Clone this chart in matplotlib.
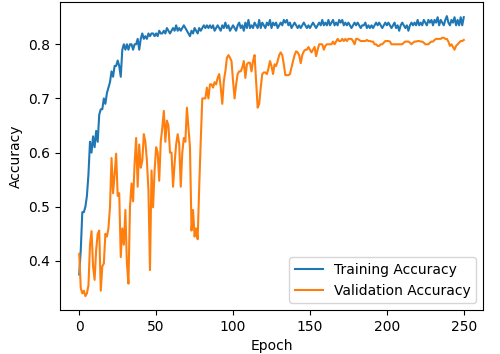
import numpy as np
import matplotlib
matplotlib.use("Agg")
import matplotlib.pyplot as plt

# training accuracy per epoch
train_acc = [
    0.375, 0.42, 0.49, 0.49, 0.50, 0.52, 0.56, 0.62, 0.60, 0.63,
    0.61, 0.64, 0.62, 0.67, 0.68, 0.68, 0.70, 0.69, 0.71, 0.72,
    0.73, 0.75, 0.74, 0.76, 0.76, 0.77, 0.76, 0.74, 0.79, 0.80,
    0.79, 0.80, 0.79, 0.80, 0.80, 0.79, 0.80, 0.80, 0.81, 0.79,
    0.81, 0.82, 0.81, 0.815, 0.81, 0.82, 0.815, 0.82, 0.82, 0.815,
    0.82, 0.815, 0.825, 0.82, 0.82, 0.825, 0.82, 0.83, 0.825, 0.82,
    0.825, 0.83, 0.825, 0.835, 0.825, 0.83, 0.825, 0.83, 0.835, 0.83,
    0.825, 0.82, 0.815, 0.825, 0.82, 0.83, 0.825, 0.82, 0.83, 0.825,
    0.83, 0.835, 0.83, 0.835, 0.83, 0.835, 0.83, 0.835, 0.825, 0.83,
    0.835, 0.83, 0.825, 0.835, 0.83, 0.84, 0.83, 0.835, 0.825, 0.83,
    0.835, 0.83, 0.825, 0.835, 0.84, 0.83, 0.835, 0.825, 0.84, 0.83,
    0.845, 0.83, 0.835, 0.83, 0.84, 0.835, 0.83, 0.845, 0.83, 0.84,
    0.835, 0.83, 0.84, 0.835, 0.845, 0.83, 0.84, 0.835, 0.84, 0.83,
    0.835, 0.84, 0.835, 0.845, 0.84, 0.845, 0.835, 0.84, 0.83, 0.835,
    0.84, 0.835, 0.83, 0.835, 0.83, 0.835, 0.84, 0.835, 0.83, 0.835,
    0.83, 0.835, 0.84, 0.835, 0.83, 0.835, 0.84, 0.835, 0.845, 0.835,
    0.84, 0.835, 0.845, 0.835, 0.84, 0.845, 0.835, 0.84, 0.835, 0.845,
    0.84, 0.845, 0.835, 0.84, 0.835, 0.84, 0.835, 0.83, 0.835, 0.84,
    0.835, 0.84, 0.835, 0.83, 0.835, 0.835, 0.84, 0.83, 0.835, 0.83,
    0.835, 0.83, 0.835, 0.84, 0.835, 0.84, 0.835, 0.83, 0.835, 0.84,
    0.835, 0.84, 0.835, 0.83, 0.835, 0.84, 0.83, 0.835, 0.825, 0.835,
    0.84, 0.835, 0.83, 0.835, 0.825, 0.835, 0.84, 0.835, 0.84, 0.835,
    0.845, 0.835, 0.84, 0.835, 0.845, 0.84, 0.835, 0.845, 0.84, 0.845,
    0.835, 0.845, 0.84, 0.85, 0.835, 0.845, 0.84, 0.835, 0.845, 0.852,
    0.84, 0.835, 0.845, 0.84, 0.85, 0.835, 0.845, 0.835, 0.85, 0.835, 0.85,
]

# validation accuracy per epoch
val_acc = [
    0.413, 0.35, 0.34, 0.345, 0.335, 0.34, 0.355, 0.43, 0.455, 0.39,
    0.365, 0.42, 0.45, 0.456, 0.345, 0.39, 0.395, 0.45, 0.445, 0.46,
    0.50, 0.59, 0.525, 0.56, 0.598, 0.52, 0.525, 0.407, 0.46, 0.43,
    0.494, 0.395, 0.358, 0.50, 0.543, 0.51, 0.58, 0.627, 0.537, 0.615,
    0.572, 0.585, 0.634, 0.62, 0.585, 0.53, 0.383, 0.567, 0.499, 0.567,
    0.61, 0.60, 0.548, 0.62, 0.646, 0.677, 0.62, 0.659, 0.65, 0.60,
    0.60, 0.537, 0.58, 0.615, 0.634, 0.616, 0.537, 0.60, 0.627, 0.62,
    0.683, 0.646, 0.61, 0.456, 0.494, 0.445, 0.46, 0.44, 0.537, 0.622,
    0.70, 0.70, 0.70, 0.72, 0.70, 0.726, 0.726, 0.72, 0.73, 0.726,
    0.738, 0.745, 0.72, 0.69, 0.732, 0.75, 0.775, 0.78, 0.775, 0.769,
    0.732, 0.70, 0.726, 0.745, 0.75, 0.75, 0.757, 0.769, 0.738, 0.763,
    0.766, 0.766, 0.75, 0.769, 0.78, 0.732, 0.683, 0.69, 0.72, 0.745,
    0.748, 0.748, 0.745, 0.755, 0.769, 0.76, 0.745, 0.763, 0.76, 0.769,
    0.78, 0.785, 0.78, 0.763, 0.743, 0.743, 0.743, 0.745, 0.757, 0.769,
    0.78, 0.787, 0.785, 0.78, 0.765, 0.78, 0.787, 0.79, 0.79, 0.795,
    0.79, 0.785, 0.79, 0.795, 0.778, 0.79, 0.80, 0.80, 0.80, 0.79,
    0.797, 0.80, 0.80, 0.80, 0.80, 0.805, 0.80, 0.805, 0.81, 0.806,
    0.806, 0.81, 0.806, 0.81, 0.806, 0.81, 0.81, 0.81, 0.806, 0.80,
    0.81, 0.81, 0.808, 0.806, 0.806, 0.806, 0.806, 0.808, 0.806, 0.806,
    0.805, 0.805, 0.80, 0.80, 0.797, 0.797, 0.80, 0.80, 0.803, 0.806,
    0.806, 0.806, 0.805, 0.80, 0.80, 0.80, 0.80, 0.80, 0.80, 0.80,
    0.80, 0.803, 0.805, 0.805, 0.805, 0.803, 0.80, 0.803, 0.805, 0.805,
    0.806, 0.806, 0.805, 0.805, 0.803, 0.80, 0.80, 0.80, 0.803, 0.805,
    0.805, 0.808, 0.81, 0.81, 0.81, 0.81, 0.812, 0.812, 0.81, 0.81,
    0.805, 0.797, 0.80, 0.795, 0.79, 0.797, 0.80, 0.803, 0.806, 0.806, 0.808,
]

epochs = np.arange(len(train_acc))

fig = plt.figure(figsize=(5, 3.54), dpi=100)
plt.subplots_adjust(left=0.12, right=0.966, top=0.994, bottom=0.124)
plt.plot(epochs, train_acc, label="Training Accuracy")
plt.plot(epochs, val_acc, label="Validation Accuracy")
plt.xlabel("Epoch")
plt.ylabel("Accuracy")
plt.legend(loc="lower right")
plt.savefig("out.png")
